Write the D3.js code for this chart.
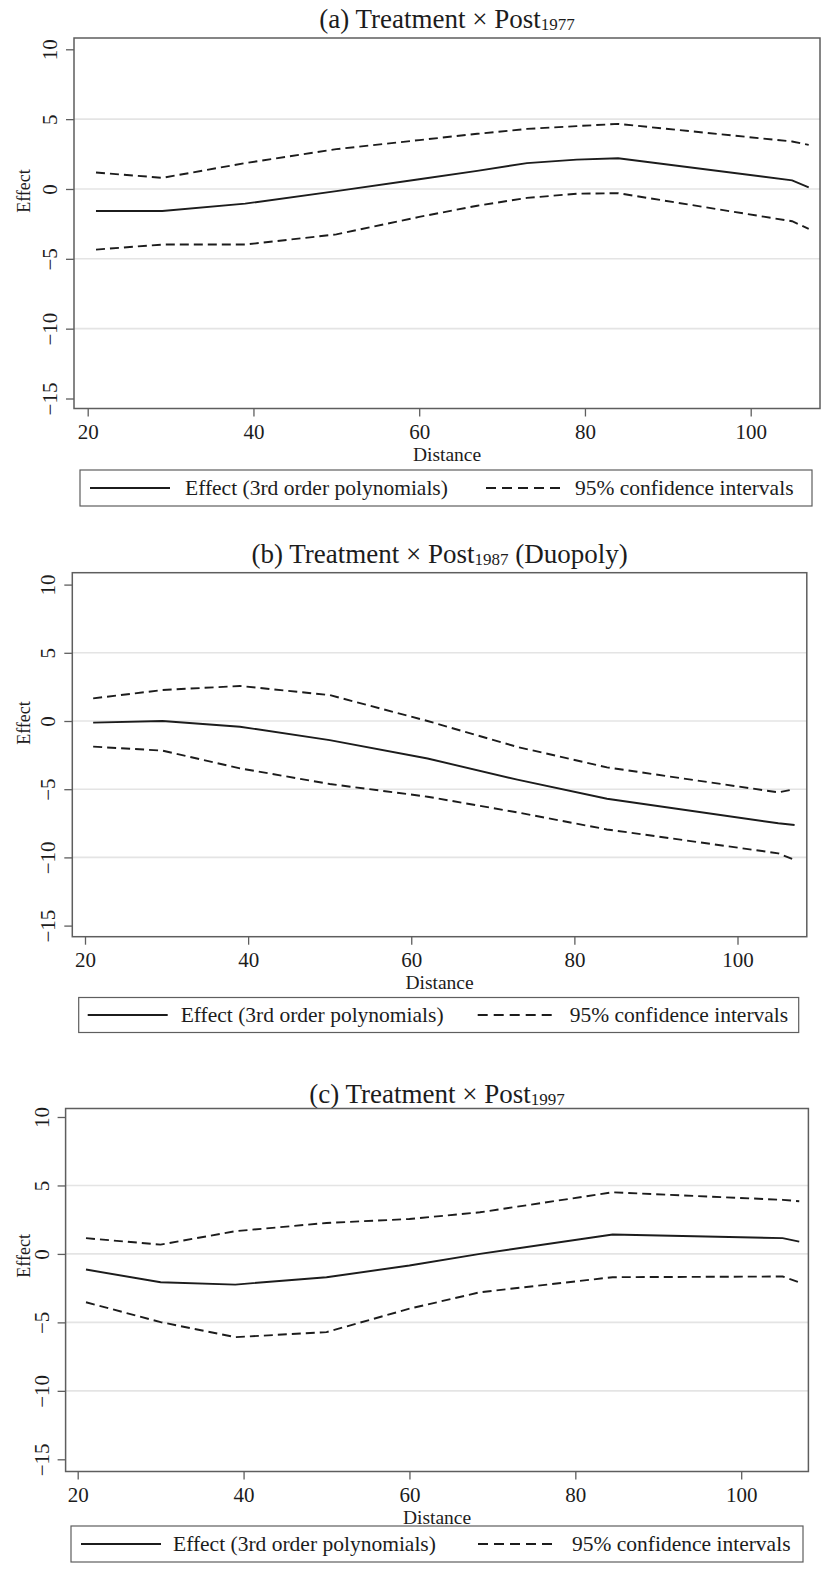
<!DOCTYPE html>
<html lang="en">
<head>
<meta charset="UTF-8">
<title>Effect by distance</title>
<script src="https://cdn.jsdelivr.net/npm/d3@7"></script>
<style>
  body { margin: 0; background: #fff; }
  svg { display: block; }
  svg text { font-family: "Liberation Serif", "Times New Roman", serif !important; }
</style>
</head>
<body>
<svg id="chart" width="823" height="1569"></svg>
<script>
// panel (a) Post 1977
const distA   = [21, 29, 39, 50, 60, 67, 73, 79, 84, 105, 107];
const effectA = [-1.58, -1.58, -1.05, -0.15, 0.7, 1.3, 1.85, 2.1, 2.2, 0.62, 0.12];
const upperA  = [1.18, 0.8, 1.85, 2.85, 3.5, 3.95, 4.3, 4.5, 4.66, 3.4, 3.16];
const lowerA  = [-4.34, -3.98, -3.98, -3.25, -2.0, -1.2, -0.64, -0.34, -0.3, -2.31, -2.85];

// panel (b) Post 1987 (Duopoly)
const distB   = [21, 29.5, 39, 50, 62, 73, 84, 105, 107];
const effectB = [-0.12, 0.0, -0.42, -1.4, -2.75, -4.3, -5.7, -7.5, -7.62];
const upperB  = [1.66, 2.27, 2.57, 1.9, 0.0, -1.9, -3.4, -5.23, -5.0];
const lowerB  = [-1.88, -2.17, -3.47, -4.62, -5.55, -6.7, -7.95, -9.7, -10.19];

// panel (c) Post 1997
const distC   = [21, 30, 39, 50, 60, 68.5, 84.5, 105, 107];
const effectC = [-1.14, -2.07, -2.24, -1.7, -0.85, 0.0, 1.42, 1.15, 0.9];
const upperC  = [1.15, 0.68, 1.66, 2.26, 2.55, 3.04, 4.5, 3.95, 3.85];
const lowerC  = [-3.53, -4.98, -6.08, -5.71, -4.0, -2.8, -1.7, -1.65, -2.07];

const xTicks = [20, 40, 60, 80, 100];
const yTicks = [-15, -10, -5, 0, 5, 10];
const gridTicks = [-10, -5, 0, 5];
const legendLabels = ["Effect (3rd order polynomials)", "95% confidence intervals"];
const titleParts = [
  ["(a) Treatment \u00d7 Post", "1977", ""],
  ["(b) Treatment \u00d7 Post", "1987", " (Duopoly)"],
  ["(c) Treatment \u00d7 Post", "1997", ""]
];

const panels = [
  { title: titleParts[0], dist: distA, effect: effectA, upper: upperA, lower: lowerA,
    titleGap: 10,
    frame: { l: 74, r: 820, t: 38, b: 408.5 }, xr: [87.7, 750.7], yr: [398.5, 49.3],
    legend: { l: 80, t: 470, w: 732, h: 36, s1: 10, t1: 105, s2: 406, t2: 495 } },
  { title: titleParts[1], dist: distB, effect: effectB, upper: upperB, lower: lowerB,
    titleGap: 10,
    frame: { l: 72.3, r: 806.8, t: 572.7, b: 936.7 }, xr: [85, 737.5], yr: [925.6, 584.6],
    legend: { l: 78.7, t: 997.5, w: 720, h: 35, s1: 9, t1: 102, s2: 399, t2: 491 } },
  { title: titleParts[2], dist: distC, effect: effectC, upper: upperC, lower: lowerC,
    titleGap: 6,
    frame: { l: 65.6, r: 808.4, t: 1108.5, b: 1471.5 }, xr: [77.7, 741.2], yr: [1459.3, 1117],
    legend: { l: 71, t: 1526, w: 732, h: 36, s1: 10, t1: 102, s2: 407, t2: 501 } }
];

const svg = d3.select("#chart");
const ink = "#1c1c1c";
const frameColor = "#5e5e5e";

panels.forEach(p => {
  const f = p.frame;
  const x = d3.scaleLinear().domain([20, 100]).range(p.xr);
  const y = d3.scaleLinear().domain([-15, 10]).range(p.yr);
  const g = svg.append("g");

  // title, year as subscript
  const title = g.append("text")
    .attr("x", (f.l + f.r) / 2)
    .attr("y", f.t - p.titleGap)
    .attr("text-anchor", "middle")
    .attr("font-size", 27)
    .attr("fill", ink);
  title.append("tspan").text(p.title[0]);
  title.append("tspan").attr("font-size", 17).attr("dy", 2).text(p.title[1]);
  title.append("tspan").attr("dy", -2).text(p.title[2]);

  // grid
  g.append("g").selectAll("line")
    .data(gridTicks)
    .enter().append("line")
    .attr("x1", f.l).attr("x2", f.r)
    .attr("y1", d => y(d)).attr("y2", d => y(d))
    .attr("stroke", "#e4e4e4")
    .attr("stroke-width", 1.6);

  // frame
  g.append("rect")
    .attr("x", f.l).attr("y", f.t)
    .attr("width", f.r - f.l).attr("height", f.b - f.t)
    .attr("fill", "none")
    .attr("stroke", frameColor)
    .attr("stroke-width", 1.5);

  // y axis, labels turned
  const yAxis = g.append("g")
    .attr("transform", `translate(${f.l},0)`)
    .call(d3.axisLeft(y).tickValues(yTicks).tickSize(8).tickFormat(d3.format("d")));
  yAxis.select(".domain").remove();
  yAxis.selectAll(".tick line").attr("stroke", frameColor).attr("stroke-width", 1.3);
  yAxis.selectAll(".tick text")
    .attr("transform", "rotate(-90)")
    .attr("x", 0).attr("y", -17).attr("dy", 0)
    .attr("text-anchor", "middle")
    .attr("font-size", 21)
    .attr("fill", ink);

  // x axis
  const xAxis = g.append("g")
    .attr("transform", `translate(0,${f.b})`)
    .call(d3.axisBottom(x).tickValues(xTicks).tickSize(8).tickFormat(d3.format("d")));
  xAxis.select(".domain").remove();
  xAxis.selectAll(".tick line").attr("stroke", frameColor).attr("stroke-width", 1.3);
  xAxis.selectAll(".tick text")
    .attr("y", 30).attr("dy", 0)
    .attr("font-size", 21)
    .attr("fill", ink);

  // axis titles
  g.append("text")
    .attr("x", (f.l + f.r) / 2)
    .attr("y", f.b + 52)
    .attr("text-anchor", "middle")
    .attr("font-size", 19.5)
    .attr("fill", ink)
    .text("Distance");
  g.append("text")
    .attr("transform", `translate(30,${y(0) + 2}) rotate(-90)`)
    .attr("text-anchor", "middle")
    .attr("font-size", 18)
    .attr("fill", ink)
    .text("Effect");

  // curves
  const series = [
    { vals: p.upper, dash: "9,5" },
    { vals: p.lower, dash: "9,5" },
    { vals: p.effect, dash: null }
  ];
  series.forEach(s => {
    const pts = p.dist.map((d, i) => [d, s.vals[i]]);
    g.append("path")
      .datum(pts)
      .attr("fill", "none")
      .attr("stroke", ink)
      .attr("stroke-width", 1.9)
      .attr("stroke-dasharray", s.dash)
      .attr("d", d3.line().x(d => x(d[0])).y(d => y(d[1])));
  });

  // legend
  const L = p.legend;
  const lg = g.append("g").attr("transform", `translate(${L.l},${L.t})`);
  lg.append("rect")
    .attr("width", L.w).attr("height", L.h)
    .attr("fill", "#fff")
    .attr("stroke", frameColor)
    .attr("stroke-width", 1.2);
  const cy = L.h / 2;
  lg.append("line")
    .attr("x1", L.s1).attr("x2", L.s1 + 80)
    .attr("y1", cy).attr("y2", cy)
    .attr("stroke", ink).attr("stroke-width", 1.9);
  lg.append("line")
    .attr("x1", L.s2).attr("x2", L.s2 + 80)
    .attr("y1", cy).attr("y2", cy)
    .attr("stroke", ink).attr("stroke-width", 1.9)
    .attr("stroke-dasharray", "10,6");
  lg.append("text")
    .attr("x", L.t1).attr("y", cy + 7)
    .attr("font-size", 21.5).attr("fill", ink)
    .text(legendLabels[0]);
  lg.append("text")
    .attr("x", L.t2).attr("y", cy + 7)
    .attr("font-size", 21.5).attr("fill", ink)
    .text(legendLabels[1]);
});
</script>
</body>
</html>
